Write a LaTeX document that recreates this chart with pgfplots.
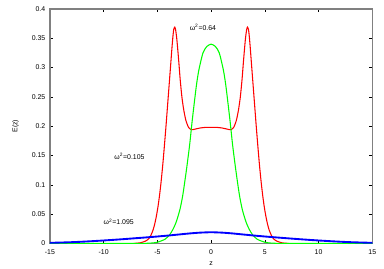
\documentclass[border=0pt]{standalone}
\usepackage{fontspec}
\setmainfont{Liberation Sans}
\usepackage{pgfplots}
\pgfplotsset{compat=1.18}
\usetikzlibrary{calc}
\definecolor{cred}{HTML}{FF0000}
\definecolor{cgreen}{HTML}{00FF00}
\definecolor{cblue}{HTML}{0000FF}
\definecolor{frame}{HTML}{808080}

\pgfplotstableread{
z E
-7.2 0
-6.6 0.001
-6.1 0.004
-5.8 0.008
-5.6 0.014
-5.4 0.023
-5.25 0.033
-5.1 0.046
-4.95 0.062
-4.8 0.082
-4.65 0.106
-4.5 0.134
-4.35 0.166
-4.2 0.200
-4.05 0.236
-3.9 0.272
-3.75 0.308
-3.66 0.330
-3.57 0.350
-3.48 0.365
-3.38 0.369
-3.3 0.364
-3.2 0.350
-3.1 0.330
-3.0 0.308
-2.88 0.280
-2.72 0.250
-2.55 0.228
-2.35 0.210
-2.1 0.198
-1.83 0.194
-1.5 0.195
-1.0 0.197
-0.5 0.198
0 0.198
0.5 0.198
1.0 0.197
1.5 0.195
1.83 0.194
2.1 0.198
2.35 0.210
2.55 0.228
2.72 0.250
2.88 0.280
3.0 0.308
3.1 0.330
3.2 0.350
3.3 0.364
3.38 0.369
3.48 0.365
3.57 0.350
3.66 0.330
3.75 0.308
3.9 0.272
4.05 0.236
4.2 0.200
4.35 0.166
4.5 0.134
4.65 0.106
4.8 0.082
4.95 0.062
5.1 0.046
5.25 0.033
5.4 0.023
5.6 0.014
5.8 0.008
6.1 0.004
6.6 0.001
7.2 0
}\redtab

\pgfplotstableread{
z E
-15 0
-7 0
-6 0.0002
-5.5 0.0007
-5.0 0.002
-4.3 0.007
-3.87 0.0145
-3.55 0.024
-3.24 0.037
-2.9 0.058
-2.63 0.083
-2.3 0.125
-2.0 0.168
-1.75 0.211
-1.38 0.268
-1.14 0.296
-0.76 0.325
-0.4 0.336
0 0.340
0.4 0.336
0.76 0.325
1.14 0.296
1.38 0.268
1.75 0.211
2.0 0.168
2.3 0.125
2.63 0.083
2.9 0.058
3.24 0.037
3.55 0.024
3.87 0.0145
4.3 0.007
5.0 0.002
5.5 0.0007
6 0.0002
7 0
15 0
}\greentab

\pgfplotstableread{
z E
-15 0.0010
-14 0.0015
-13 0.0021
-12 0.0029
-11 0.0039
-10 0.0050
-9 0.0062
-8 0.0075
-7 0.0089
-6 0.0103
-5 0.0118
-4 0.0134
-3 0.0152
-2 0.0170
-1 0.0184
0 0.0190
1 0.0184
2 0.0170
3 0.0152
4 0.0134
5 0.0118
6 0.0103
7 0.0089
8 0.0075
9 0.0062
10 0.0050
11 0.0039
12 0.0029
13 0.0021
14 0.0015
15 0.0010
}\bluetab

\begin{document}
\begin{tikzpicture}[font=\fontsize{5.2}{6}\selectfont]
\begin{axis}[name=ax,scale only axis,width=242pt,height=176pt,
 xmin=-15,xmax=15,ymin=0,ymax=0.4,
 xtick={-15,-10,...,15},xticklabels={-15,-10,-5,0,5,10,15},
 ytick={0,0.05,...,0.4},yticklabels={0,0.05,0.1,0.15,0.2,0.25,0.3,0.35,0.4},
 axis line style={draw=frame,line width=0.9pt},
 major tick style={draw=black,line width=0.4pt},major tick length=2.2pt,
 tick align=inside,
 xlabel={z},ylabel={E(z)},
 xlabel style={at={(axis description cs:0.5,-0.085)},anchor=center},
 ylabel style={at={(axis description cs:-0.107,0.5)},anchor=center},
 xticklabel style={yshift=-1pt},
 clip=false]
\addplot[cred,line width=0.8pt,smooth,tension=0.4] table[x=z,y=E] {\redtab};
\addplot[cgreen,line width=0.8pt,smooth,tension=0.4] table[x=z,y=E] {\greentab};
\addplot[cblue,line width=1.4pt,smooth] table[x=z,y=E] {\bluetab};
\node at (axis cs:-0.76,0.369) {ω\textsuperscript{2}=0.64};
\node at (axis cs:-7.6,0.148) {ω\textsuperscript{2}=0.105};
\node at (axis cs:-8.6,0.037) {ω\textsuperscript{2}=1.095};
\end{axis}
\pgfresetboundingbox
\path ($(ax.south west)+(-37.5pt,-19.1pt)$) rectangle ($(ax.north east)+(8.8pt,6.75pt)$);
\end{tikzpicture}
\end{document}
